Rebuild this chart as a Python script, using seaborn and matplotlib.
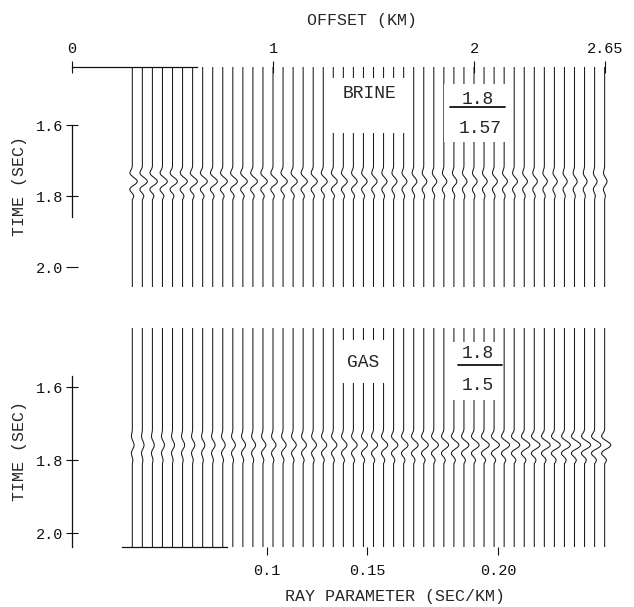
import matplotlib
matplotlib.use("Agg")
import numpy as np
import pandas as pd
import seaborn as sns
from matplotlib import pyplot as plt
from matplotlib.patches import Rectangle

# trace offsets (km), one trace every 0.05 km
offsets = [0.30, 0.35, 0.40, 0.45, 0.50, 0.55, 0.60, 0.65, 0.70, 0.75,
           0.80, 0.85, 0.90, 0.95, 1.00, 1.05, 1.10, 1.15, 1.20, 1.25,
           1.30, 1.35, 1.40, 1.45, 1.50, 1.55, 1.60, 1.65, 1.70, 1.75,
           1.80, 1.85, 1.90, 1.95, 2.00, 2.05, 2.10, 2.15, 2.20, 2.25,
           2.30, 2.35, 2.40, 2.45, 2.50, 2.55, 2.60, 2.65]

# peak amplitude of the reflection on each trace (in trace spacings)
brine_amp = [0.50, 0.50, 0.50, 0.49, 0.49, 0.48, 0.48, 0.47, 0.47, 0.46,
             0.46, 0.45, 0.45, 0.44, 0.44, 0.43, 0.42, 0.42, 0.41, 0.40,
             0.40, 0.39, 0.38, 0.37, 0.36, 0.35, 0.34, 0.33, 0.32, 0.31,
             0.30, 0.30, 0.30, 0.31, 0.32, 0.32, 0.33, 0.33, 0.33, 0.32,
             0.31, 0.30, 0.29, 0.28, 0.27, 0.26, 0.25, 0.24]
gas_amp = [0.18, 0.17, 0.19, 0.20, 0.20, 0.21, 0.22, 0.22, 0.24, 0.25,
           0.26, 0.27, 0.27, 0.29, 0.30, 0.31, 0.32, 0.33, 0.33, 0.35,
           0.36, 0.37, 0.38, 0.40, 0.41, 0.42, 0.43, 0.44, 0.45, 0.46,
           0.47, 0.48, 0.50, 0.50, 0.52, 0.53, 0.54, 0.55, 0.56, 0.57,
           0.58, 0.59, 0.60, 0.60, 0.62, 0.62, 0.63, 0.62]

# wavelet shape around the event time
event_time = 1.76
wavelet_ms = [-50, -45, -40, -35, -30, -25, -20, -15, -10, -5, 0,
              5, 10, 15, 20, 25, 30, 35, 40, 45, 50]
wavelet = [0.0, 0.0, -0.05, -0.2, -0.4, -0.5, -0.35, 0.05, 0.5, 0.9, 1.0,
           0.75, 0.25, -0.25, -0.5, -0.45, -0.15, 0.15, 0.3, 0.2, 0.0]

time_ticks = [1.6, 1.8, 2.0]
offset_ticks = [0, 1, 2, 2.65]
offset_labels = ["0", "1", "2", "2.65"]
ray_params = ["0.1", "0.15", "0.20"]
ray_param_offsets = [0.97, 1.47, 2.12]

spacing = 0.05


def traces_frame(amps, t_top, t_bot):
    rows = []
    for k, (off, a) in enumerate(zip(offsets, amps)):
        rows.append((k, off, t_top))
        for dt, w in zip(wavelet_ms, wavelet):
            rows.append((k, off + a * w * spacing, event_time + dt / 1000))
        rows.append((k, off, t_bot))
    return pd.DataFrame(rows, columns=["trace", "x", "t"])


sns.set_style("white")
plt.rcParams["font.family"] = ["Liberation Mono", "DejaVu Sans Mono"]

fig = plt.figure(figsize=(6.34, 6.07), dpi=100)
ax_top = fig.add_axes([0.1136, 0.5272, 0.8718, 0.3624])
ax_bot = fig.add_axes([0.1136, 0.0988, 0.8718, 0.3608])

panels = [(ax_top, brine_amp, 1.4366, 2.0563), (ax_bot, gas_amp, 1.4384, 2.0384)]
for ax, amps, t_top, t_bot in panels:
    df = traces_frame(amps, t_top, t_bot)
    sns.lineplot(data=df, x="x", y="t", units="trace", estimator=None, sort=False,
                 color="#1a1a1a", lw=0.75, ax=ax)
    ax.set_xlim(0, 2.75)
    ax.set_ylim(t_bot, t_top)
    ax.set_xlabel("")
    ax.set_ylabel("")
    ax.spines["right"].set_visible(False)
    ax.set_yticks(time_ticks, ["1.6", "1.8", "2.0"])
    ax.tick_params(axis="y", left=True, direction="inout", length=9, width=0.8, pad=2,
                   labelsize=11, colors="#111")

# top panel axes
ax_top.spines["bottom"].set_visible(False)
ax_top.spines["top"].set_bounds(0, 0.62)
ax_top.spines["left"].set_bounds(1.6, 1.86)
ax_top.xaxis.tick_top()
ax_top.set_xticks(offset_ticks, offset_labels)
ax_top.tick_params(axis="x", top=True, bottom=False, direction="inout", length=8,
                   width=0.8, pad=4, labelsize=11, colors="#111")

# bottom panel axes
ax_bot.spines["top"].set_visible(False)
ax_bot.spines["bottom"].set_bounds(0.25, 0.77)
ax_bot.spines["left"].set_bounds(1.57, 2.038)
ax_bot.set_xticks(ray_param_offsets, ray_params)
ax_bot.tick_params(axis="x", bottom=True, direction="out", length=6, width=0.8, pad=6,
                   labelsize=11, colors="#111")

for ax in (ax_top, ax_bot):
    for s in ax.spines.values():
        s.set_linewidth(0.9)
        s.set_color("#111")

# label boxes
def box(ax, x0, x1, t0, t1):
    ax.add_patch(Rectangle((x0, t0), x1 - x0, t1 - t0, fc="white", ec="none", zorder=3))

box(ax_top, 1.274, 1.657, 1.4676, 1.6225)
ax_top.text(1.478, 1.51, "BRINE", ha="center", va="center", fontsize=13, zorder=4)
box(ax_top, 1.851, 2.179, 1.4845, 1.648)
ax_top.text(2.02, 1.527, "1.8", ha="center", va="center", fontsize=13, zorder=4)
ax_top.plot([1.881, 2.154], [1.549, 1.549], color="#111", lw=1.3, zorder=4)
ax_top.text(2.03, 1.611, "1.57", ha="center", va="center", fontsize=13, zorder=4)

box(ax_bot, 1.318, 1.582, 1.4712, 1.589)
ax_bot.text(1.448, 1.5315, "GAS", ha="center", va="center", fontsize=13, zorder=4)
box(ax_bot, 1.89, 2.139, 1.477, 1.6356)
ax_bot.text(2.02, 1.507, "1.8", ha="center", va="center", fontsize=13, zorder=4)
ax_bot.plot([1.92, 2.14], [1.5397, 1.5397], color="#111", lw=1.3, zorder=4)
ax_bot.text(2.02, 1.5945, "1.5", ha="center", va="center", fontsize=13, zorder=4)

# axis titles
fig.text(362 / 634, 1 - 20 / 607, "OFFSET (KM)", ha="center", va="center", fontsize=12)
fig.text(395 / 634, 1 - 597 / 607, "RAY PARAMETER (SEC/KM)", ha="center", va="center",
         fontsize=12)
fig.text(20 / 634, 1 - 186 / 607, "TIME (SEC)", rotation=90, ha="center", va="center",
         fontsize=12)
fig.text(20 / 634, 1 - 451 / 607, "TIME (SEC)", rotation=90, ha="center", va="center",
         fontsize=12)

fig.savefig("out.png", dpi=100)
